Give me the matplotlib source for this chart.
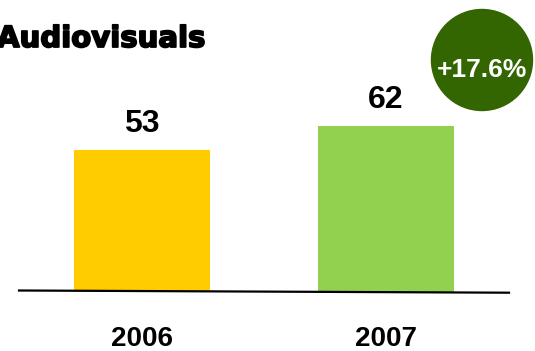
import matplotlib
matplotlib.use("Agg")
import matplotlib.pyplot as plt
import matplotlib.patheffects as pe
from matplotlib.patches import Ellipse

years = ["2006", "2007"]
values = [53, 62]
bar_colors = ["#FFCC00", "#92D050"]
title = "Audiovisuals"
growth_label = "+17.6%"

W, H = 535, 351
fig = plt.figure(figsize=(W / 100, H / 100), dpi=100)
ax = fig.add_axes([0, 0, 1, 1])
ax.axis("off")

x = list(range(len(years)))
ax.bar(x, values, width=0.557, color=bar_colors, zorder=2)
ax.set_xlim(-142 / 244, (W - 142) / 244)
ax.set_ylim(-(H - 291.5) / 2.67, 291.5 / 2.67)

num_font = dict(family=["Liberation Sans", "DejaVu Sans"], fontweight="bold")
for xi, v, yr in zip(x, values, years):
    ax.annotate(str(v), (xi, v), xytext=(0, 13), textcoords="offset points",
                ha="center", va="baseline", fontsize=23, color="black", **num_font)
    ax.annotate(yr, (xi, 0), xytext=(0, -39.5), textcoords="offset points",
                ha="center", va="baseline", fontsize=20, color="black", **num_font)

# slightly tilted baseline, as in the original slide
fig.add_artist(plt.Line2D([19 / W, 509 / W], [1 - 290.5 / H, 1 - 292.7 / H],
                          color="black", lw=1.6, zorder=3))

fig.text(-3 / W, 1 - 47 / H, title, fontsize=21, fontweight="heavy",
         family="DejaVu Sans", ha="left", va="baseline",
         path_effects=[pe.withStroke(linewidth=1.3, foreground="black")])

fig.add_artist(Ellipse((482 / W, 1 - 60 / H), 101 / W, 101 / H,
                       transform=fig.transFigure, color="#336600", zorder=4))
fig.text(482.5 / W, 1 - 77 / H, growth_label, fontsize=19, color="white",
         ha="center", va="baseline", zorder=5, **num_font)

fig.savefig("out.png", dpi=100)
